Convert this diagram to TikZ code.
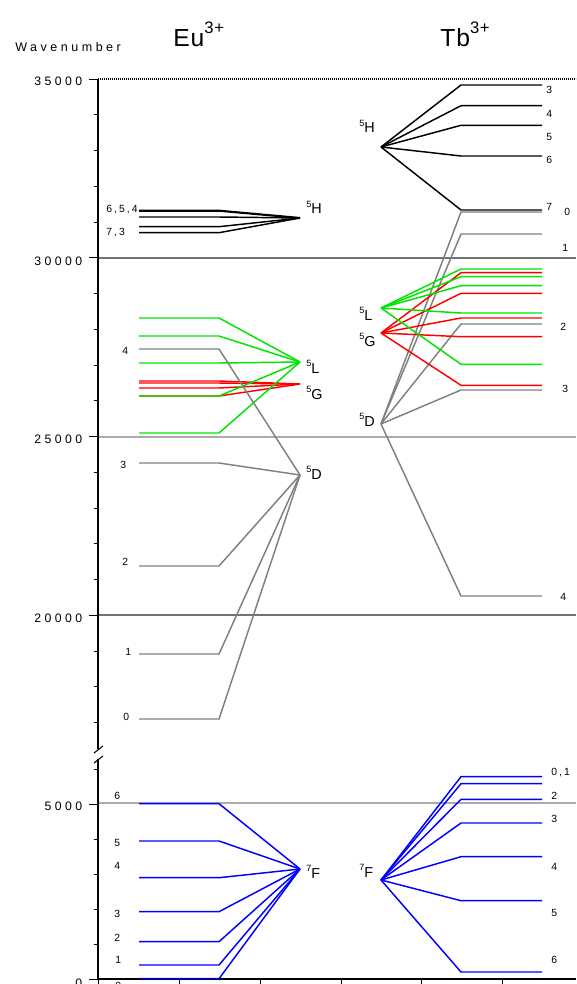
\documentclass[tikz,border=0pt]{standalone}
\usepackage{fontspec}
\setmainfont{Liberation Sans}
\newfontfamily\spfont[LetterSpace=28]{Liberation Sans}
\newfontfamily\jspfont[LetterSpace=20]{Liberation Sans}
\newfontfamily\tspfont[LetterSpace=4]{Liberation Sans}
\newcommand\tickfont{\spfont\fontsize{9.2}{10}\selectfont}
\newcommand\jfont{\jspfont\fontsize{7.8}{9}\selectfont}
\newcommand\termfont{\fontsize{10.8}{12}\selectfont}
\newcommand\titfont{\tspfont\fontsize{18.5}{20}\selectfont}
\newcommand\term[2]{{\fontsize{6.8}{7}\selectfont\raisebox{4.8pt}{#1}}#2}
\newcommand\ion[2]{#1{\fontsize{12.5}{13}\selectfont\raisebox{10pt}{#2}}}
\definecolor{levgray}{RGB}{128,128,128}
\definecolor{levgreen}{RGB}{0,228,0}
\definecolor{levred}{RGB}{255,0,0}
\definecolor{levblue}{RGB}{0,0,255}
\begin{document}
\begin{tikzpicture}[x=0.75pt,y=-0.75pt,
  lev/.style={line width=1.1pt},
  gridA/.style={draw=black!55,line width=0.8pt},
  gridB/.style={draw=black!33,line width=0.8pt},
  axis/.style={draw=black,line width=1.1pt},
  ticklab/.style={font=\tickfont,anchor=base east,inner sep=0pt},
  jlab/.style={font=\jfont,anchor=base west,inner sep=0pt},
  termlab/.style={font=\termfont,anchor=base west,inner sep=0pt},
  titlab/.style={font=\titfont,anchor=base west,inner sep=0pt}]
\useasboundingbox (0,0) rectangle (576,984);
\fill[white] (0,0) rectangle (576,984);

% ---------- titles ----------
\node[font=\spfont\fontsize{9.4}{11}\selectfont,anchor=base west,inner sep=0pt] (wn) at (15,52) {Wavenumber};
\node[titlab] (eu) at (173,46.7) {\ion{Eu}{3+}};
\node[titlab] (tb) at (440,46.7) {\ion{Tb}{3+}};

% ---------- grid lines ----------
\draw[gridA] (98,258) -- (576,258);
\draw[gridB] (98,437) -- (576,437);
\draw[gridA] (98,615) -- (576,615);
\draw[gridB] (98,803) -- (576,803);
\draw[black,line width=0.9pt,dash pattern=on 0.9pt off 0.6pt] (98,79) -- (576,79);

% ---------- axes ----------
\draw[axis] (98,79) -- (98,749);
\draw[axis] (98,759) -- (98,979) -- (576,979);
\draw[black,line width=0.8pt] (94,753) -- (103,746);
\draw[black,line width=0.8pt] (94,763) -- (103,756);
\foreach \k in {0,...,18} \draw[black,line width=0.7pt] (93.5,79+35.75*\k) -- (98,79+35.75*\k);
\foreach \k in {0,5,10,15} \draw[black,line width=0.7pt] (89,79+35.75*\k) -- (98,79+35.75*\k);
\foreach \k in {0,...,6} \draw[black,line width=0.7pt] (93.5,979-35*\k) -- (98,979-35*\k);
\foreach \k in {0,5} \draw[black,line width=0.7pt] (89,979-35*\k) -- (98,979-35*\k);
\foreach \xx in {98,179,260,341,421,502} \draw[black,line width=0.7pt] (\xx,979) -- (\xx,984);

\node[ticklab] (t35) at (82.5,86) {35000};
\node[ticklab] (t30) at (82.5,265) {30000};
\node[ticklab] (t25) at (82.5,443.5) {25000};
\node[ticklab] (t20) at (82.5,622.5) {20000};
\node[ticklab] (t5) at (82.5,810.5) {5000};
\node[ticklab] (t0) at (82.5,987) {0};

% ---------- term points ----------
\coordinate (eu5H) at (300,218);
\coordinate (eu5L) at (300,362);
\coordinate (eu5G) at (300,384);
\coordinate (eu5D) at (300,475);
\coordinate (eu7F) at (300,869);
\coordinate (tb5H) at (381,147);
\coordinate (tb5L) at (381,308);
\coordinate (tb5G) at (381,333);
\coordinate (tb5D) at (381,424);
\coordinate (tb7F) at (381,880);

% ---------- Eu3+ levels ----------
\draw[lev,black,line width=1.6pt] (139,210.7) -- (219,210.7) -- (eu5H);
\foreach \y in {217,226.7,232.7} \draw[lev,black] (139,\y) -- (219,\y) -- (eu5H);
\foreach \y in {381,383,388,396} \draw[lev,levred] (139,\y) -- (219,\y) -- (eu5G);
\foreach \y in {318,336,363,396,433} \draw[lev,levgreen] (139,\y) -- (219,\y) -- (eu5L);
\foreach \y in {349,463,566,654,719} \draw[lev,levgray] (139,\y) -- (219,\y) -- (eu5D);
\foreach \y in {803.7,841,877.7,911.7,941.7,965,978.7} \draw[lev,levblue] (139,\y) -- (219,\y) -- (eu7F);

% ---------- Tb3+ levels ----------
\foreach \y in {212,234,324,390,596} \draw[lev,levgray] (542,\y) -- (461,\y) -- (tb5D);
\foreach \y in {85,105.7,125.3,156,210} \draw[lev,black] (542,\y) -- (461,\y) -- (tb5H);
\foreach \y in {272.7,293.3,318,336.7,385.3} \draw[lev,levred] (542,\y) -- (461,\y) -- (tb5G);
\foreach \y in {269,276.7,285.7,313,364.3} \draw[lev,levgreen] (542,\y) -- (461,\y) -- (tb5L);
\foreach \y in {776.7,783.7,799.3,823,856.7,900.7,972} \draw[lev,levblue] (542,\y) -- (461,\y) -- (tb7F);

% ---------- term labels ----------
\node[termlab] (leu5H) at (306,214) {\term{5}{H}};
\node[termlab] (leu5L) at (306,373) {\term{5}{L}};
\node[termlab] (leu5G) at (306,399) {\term{5}{G}};
\node[termlab] (leu5D) at (306,479) {\term{5}{D}};
\node[termlab] (leu7F) at (306,878) {\term{7}{F}};
\node[termlab] (ltb5H) at (359,133) {\term{5}{H}};
\node[termlab] (ltb5L) at (359,320) {\term{5}{L}};
\node[termlab] (ltb5G) at (359,346) {\term{5}{G}};
\node[termlab] (ltb5D) at (359,426) {\term{5}{D}};
\node[termlab] (ltb7F) at (359,877) {\term{7}{F}};

% ---------- J labels, Eu ----------
\node[jlab] (je1) at (106,213) {6,5,4};
\node[jlab] (je2) at (106,236) {7,3};
\node[jlab] (je3) at (122,354) {4};
\node[jlab] (je4) at (120,468) {3};
\node[jlab] (je5) at (122,565) {2};
\node[jlab] (je6) at (125,655) {1};
\node[jlab] (je7) at (123,720) {0};
\node[jlab] (je8) at (114,799) {6};
\node[jlab] (je9) at (114,846) {5};
\node[jlab] (je10) at (114,869) {4};
\node[jlab] (je11) at (114,917) {3};
\node[jlab] (je12) at (114,941) {2};
\node[jlab] (je13) at (115,963) {1};
\node[jlab] (je14) at (115,989) {0};

% ---------- J labels, Tb ----------
\node[jlab] (jt1) at (546,94) {3};
\node[jlab] (jt2) at (546,118) {4};
\node[jlab] (jt3) at (546,141) {5};
\node[jlab] (jt4) at (546,164) {6};
\node[jlab] (jt5) at (546,211) {7};
\node[jlab] (jt6) at (564,216) {0};
\node[jlab] (jt7) at (562,251) {1};
\node[jlab] (jt8) at (560,330) {2};
\node[jlab] (jt9) at (562,392) {3};
\node[jlab] (jt10) at (560,600) {4};
\node[jlab] (jt11) at (551,775) {0,1};
\node[jlab] (jt12) at (551,799) {2};
\node[jlab] (jt13) at (551,822) {3};
\node[jlab] (jt14) at (551,870) {4};
\node[jlab] (jt15) at (551,916) {5};
\node[jlab] (jt16) at (551,963) {6};
\end{tikzpicture}
\end{document}
